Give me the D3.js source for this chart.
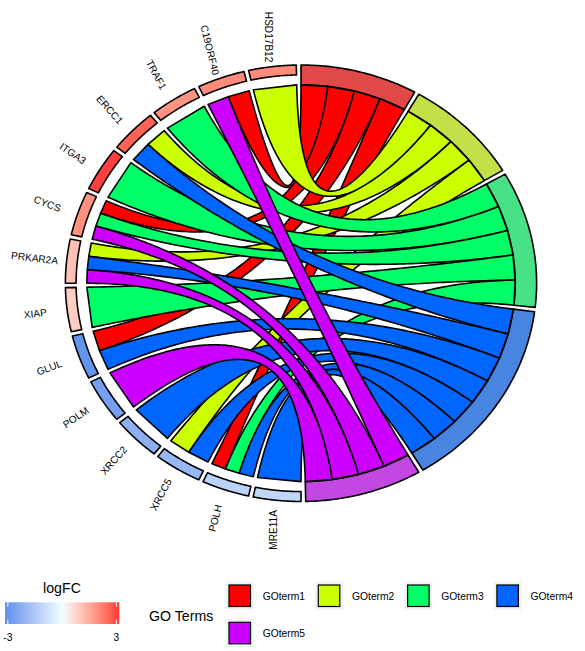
<!DOCTYPE html>
<html><head><meta charset="utf-8">
<script src="https://cdn.jsdelivr.net/npm/d3@7"></script>
<style>
body{margin:0;background:#fff}
svg{display:block}
text{font-family:"Liberation Sans",Arial,Helvetica,sans-serif;fill:#000}
</style>
</head><body>
<svg id="chart" width="585" height="651"></svg>
<script>
// ---------------- data ----------------
const genes = ["HSD17B12","C19ORF40","TRAF1","ERCC1","ITGA3","CYCS","PRKAR2A","XIAP","GLUL","POLM","XRCC2","XRCC5","POLH","MRE11A"];
const logFC = [2.0, 2.0, 1.9, 2.6, 3.0, 1.9, 1.1, 0.9, -3.0, -2.7, -2.2, -2.0, -1.2, -1.1];
const terms = ["GOterm1","GOterm2","GOterm3","GOterm4","GOterm5"];
// gene x term membership (rows follow genes, columns follow terms)
const membership = [
  [0,1,0,0,0],
  [1,0,0,0,1],
  [0,0,1,0,0],
  [0,1,0,1,0],
  [0,0,1,0,0],
  [1,0,1,0,1],
  [0,1,0,1,1],
  [0,0,1,0,0],
  [1,0,0,1,0],
  [0,0,0,0,1],
  [0,0,0,1,0],
  [0,1,0,1,0],
  [1,0,1,1,0],
  [0,0,0,1,0]
];
const termColors = ["#FF0000","#CCFF00","#00FF66","#0066FF","#CC00FF"];
const lfcLow = "#6495ED", lfcMid = "#F0FFFF", lfcHigh = "#FF4040";

// ---------------- layout ----------------
const svg = d3.select("#chart");
const cx = 301, cy = 283.25, ux = 214.2, uy = 198.4;
const X = d3.scaleLinear().domain([0, 1]).range([cx, cx + ux]);
const Y = d3.scaleLinear().domain([0, 1]).range([cy, cy - uy]);
const line = d3.line().x(d => X(d[0])).y(d => Y(d[1]));
const space = 0.02, r1 = 1, r2 = 1.1, geneSpace = 0.25, L = 50;
const SW = 1.6;

const Nrow = genes.length, Ncol = terms.length;
const nrib = terms.map((t, j) => d3.sum(membership, r => r[j]));
const ngen = membership.map(r => d3.sum(r));
const total = d3.sum(nrib);

const seq = (a, b, n) => d3.range(n).map(i => n === 1 ? a : a + (b - a) * i / (n - 1));

// process positions
const xs = [0], xmax = [];
nrib.forEach((n, r) => {
  const perc = n / total;
  xmax.push(Math.PI * perc - space);
  if (xs.length <= Ncol - 1) xs.push(xs[r] + Math.PI * perc);
});
// gene positions
const x2 = seq(0 - space, -Math.PI + Math.PI / Nrow - space, Nrow);
const xmax2 = x2.map(() => -Math.PI / Nrow + space);

function ringPoly(a0, w, ra, rb) {
  const xh = seq(a0, a0 + w, L);
  const pts = [[ra * Math.sin(a0), ra * Math.cos(a0)]];
  xh.forEach(a => pts.push([ra * Math.sin(a), ra * Math.cos(a)]));
  pts.push([ra * Math.sin(a0 + w), ra * Math.cos(a0 + w)]);
  pts.push([rb * Math.sin(a0 + w), rb * Math.cos(a0 + w)]);
  xh.slice().reverse().forEach(a => pts.push([rb * Math.sin(a), rb * Math.cos(a)]));
  pts.push([rb * Math.sin(a0), rb * Math.cos(a0)]);
  return pts;
}

function blendGray(c) {
  const k = d3.rgb(c), g = 179;
  return d3.rgb(0.6 * k.r + 0.4 * g, 0.6 * k.g + 0.4 * g, 0.6 * k.b + 0.4 * g).formatHex();
}

// logFC colour (gradient2 in Lab, midpoint 0)
const ext = d3.extent(logFC);
const extent = Math.max(Math.abs(ext[0]), Math.abs(ext[1]));
const lowI = d3.interpolateLab(lfcLow, lfcMid), highI = d3.interpolateLab(lfcMid, lfcHigh);
function lfcColor(v) {
  const t = v / extent / 2 + 0.5;
  return t < 0.5 ? lowI(t * 2) : highI((t - 0.5) * 2);
}

// ---- process ring ----
const gProc = svg.append("g");
terms.forEach((t, s) => {
  gProc.append("path")
    .attr("d", line(ringPoly(xs[s], xmax[s], r1, r2)) + "Z")
    .attr("fill", blendGray(termColors[s]))
    .attr("stroke", "#000").attr("stroke-width", SW).attr("stroke-linejoin", "round");
});

// ---- gene labels ----
const aseq = seq(0, 180, Nrow);
const gLab = svg.append("g");
genes.forEach((g, i) => {
  const o = aseq[i];
  const ang = (o + 270 <= 360) ? o + 270 : o - 90;
  const m = x2[i] + xmax2[i] / 2;
  const px = X((r1 + geneSpace) * Math.sin(m)), py = Y((r1 + geneSpace) * Math.cos(m));
  gLab.append("text")
    .attr("transform", `translate(${px},${py}) rotate(${-ang})`)
    .attr("text-anchor", "middle").attr("dy", "0.36em")
    .attr("font-size", "10.1px").attr("fill", "#1a1a1a")
    .text(g);
});

// ---- ribbons ----
let ends = [];
x2.forEach((a, gs) => {
  const val = seq(a, a + xmax2[gs], ngen[gs] + 1);
  const pros = [];
  membership[gs].forEach((v, j) => { if (v !== 0) pros.push(j); });
  for (let v = 0; v < val.length - 1; v++) {
    ends.push({x: Math.sin(val[v]), y: Math.cos(val[v]), p: pros[v], k: ends.length});
    ends.push({x: Math.sin(val[v + 1]), y: Math.cos(val[v + 1]), p: pros[v], k: ends.length});
  }
});
ends.sort((a, b) => (a.p - b.p) || (b.y - a.y) || (a.k - b.k));
const starts = [];
xs.forEach((a, rs) => {
  const val = seq(a, a + xmax[rs], nrib[rs] + 1);
  for (let v = 0; v < val.length - 1; v++) {
    starts.push({x: Math.sin(val[v]), y: Math.cos(val[v])});
    starts.push({x: Math.sin(val[v + 1]), y: Math.cos(val[v + 1])});
  }
});
const tseq = d3.range(0, 101).map(i => i / 100);
const gRib = svg.append("g");
for (let n = 0; n < ends.length; n += 2) {
  const c1 = tseq.map(t => [(1 - t) * (1 - t) * starts[n].x + t * t * ends[n].x, (1 - t) * (1 - t) * starts[n].y + t * t * ends[n].y]);
  const c2 = tseq.map(t => [(1 - t) * (1 - t) * starts[n + 1].x + t * t * ends[n + 1].x, (1 - t) * (1 - t) * starts[n + 1].y + t * t * ends[n + 1].y]);
  gRib.append("path")
    .attr("d", line(c1.concat(c2.reverse())) + "Z")
    .attr("fill", termColors[ends[n].p])
    .attr("stroke", "#000").attr("stroke-width", SW).attr("stroke-linejoin", "round");
}

// ---- gene ring ----
const gGen = svg.append("g");
genes.forEach((g, s) => {
  gGen.append("path")
    .attr("d", line(ringPoly(x2[s], xmax2[s], r1 + 0.05, r2)) + "Z")
    .attr("fill", lfcColor(logFC[s]))
    .attr("stroke", "#000").attr("stroke-width", SW).attr("stroke-linejoin", "round");
});

// ---------------- legends ----------------
// logFC colourbar
const bar = {x0: 5, x1: 119.3, y0: 602.3, y1: 624};
const lg = svg.append("g");
lg.append("text").attr("x", 62).attr("y", 592.5).attr("text-anchor", "middle")
  .attr("font-size", "14.2px").text("logFC");
const binHalf = (bar.x1 - bar.x0) / 40;
const barScale = d3.scaleLinear().domain(ext).range([bar.x0 + binHalf, bar.x1 - binHalf]);
const defs = svg.append("defs");
const grad = defs.append("linearGradient").attr("id", "lfcgrad")
  .attr("gradientUnits", "userSpaceOnUse")
  .attr("x1", barScale(ext[0])).attr("x2", barScale(ext[1])).attr("y1", 0).attr("y2", 0);
d3.range(0, 41).forEach(i => {
  const v = ext[0] + (ext[1] - ext[0]) * i / 40;
  grad.append("stop").attr("offset", i / 40).attr("stop-color", lfcColor(v));
});
lg.append("rect").attr("x", bar.x0).attr("y", bar.y0)
  .attr("width", bar.x1 - bar.x0).attr("height", bar.y1 - bar.y0).attr("fill", "url(#lfcgrad)");
const tickVals = ext;
const tickLabs = ext.map(v => Math.round(v));
const th = (bar.y1 - bar.y0) / 5;
tickVals.forEach((v, i) => {
  const tx = barScale(v);
  lg.append("line").attr("x1", tx).attr("x2", tx).attr("y1", bar.y0).attr("y2", bar.y0 + th)
    .attr("stroke", "#fff").attr("stroke-width", 1);
  lg.append("line").attr("x1", tx).attr("x2", tx).attr("y1", bar.y1 - th).attr("y2", bar.y1)
    .attr("stroke", "#fff").attr("stroke-width", 1);
  lg.append("text").attr("x", tx).attr("y", 640.5).attr("text-anchor", "middle")
    .attr("font-size", "10.3px").attr("fill", "#1a1a1a").text(tickLabs[i]);
});

// GO Terms legend
const gl = svg.append("g");
gl.append("text").attr("x", 149).attr("y", 620.8).attr("font-size", "14.2px").text("GO Terms");
const colStep = 89.3, rowStep = 37.3, sq = 21.5;
terms.forEach((t, i) => {
  const col = i % 4, row = Math.floor(i / 4);
  const sx = 229 + col * colStep, sy = 585 + row * rowStep;
  const mx = sx + sq / 2, my = sy + sq / 2;
  gl.append("rect").attr("x", mx - 14).attr("y", my - 14).attr("width", 28).attr("height", 28).attr("fill", "#F2F2F2");
  gl.append("rect").attr("x", sx).attr("y", sy).attr("width", sq).attr("height", sq)
    .attr("fill", termColors[i]).attr("stroke", "#000").attr("stroke-width", 1.2);
  gl.append("text").attr("x", 262.7 + col * colStep).attr("y", my + 3.9)
    .attr("font-size", "10.3px").attr("fill", "#1a1a1a").text(t);
});
</script>
</body></html>
